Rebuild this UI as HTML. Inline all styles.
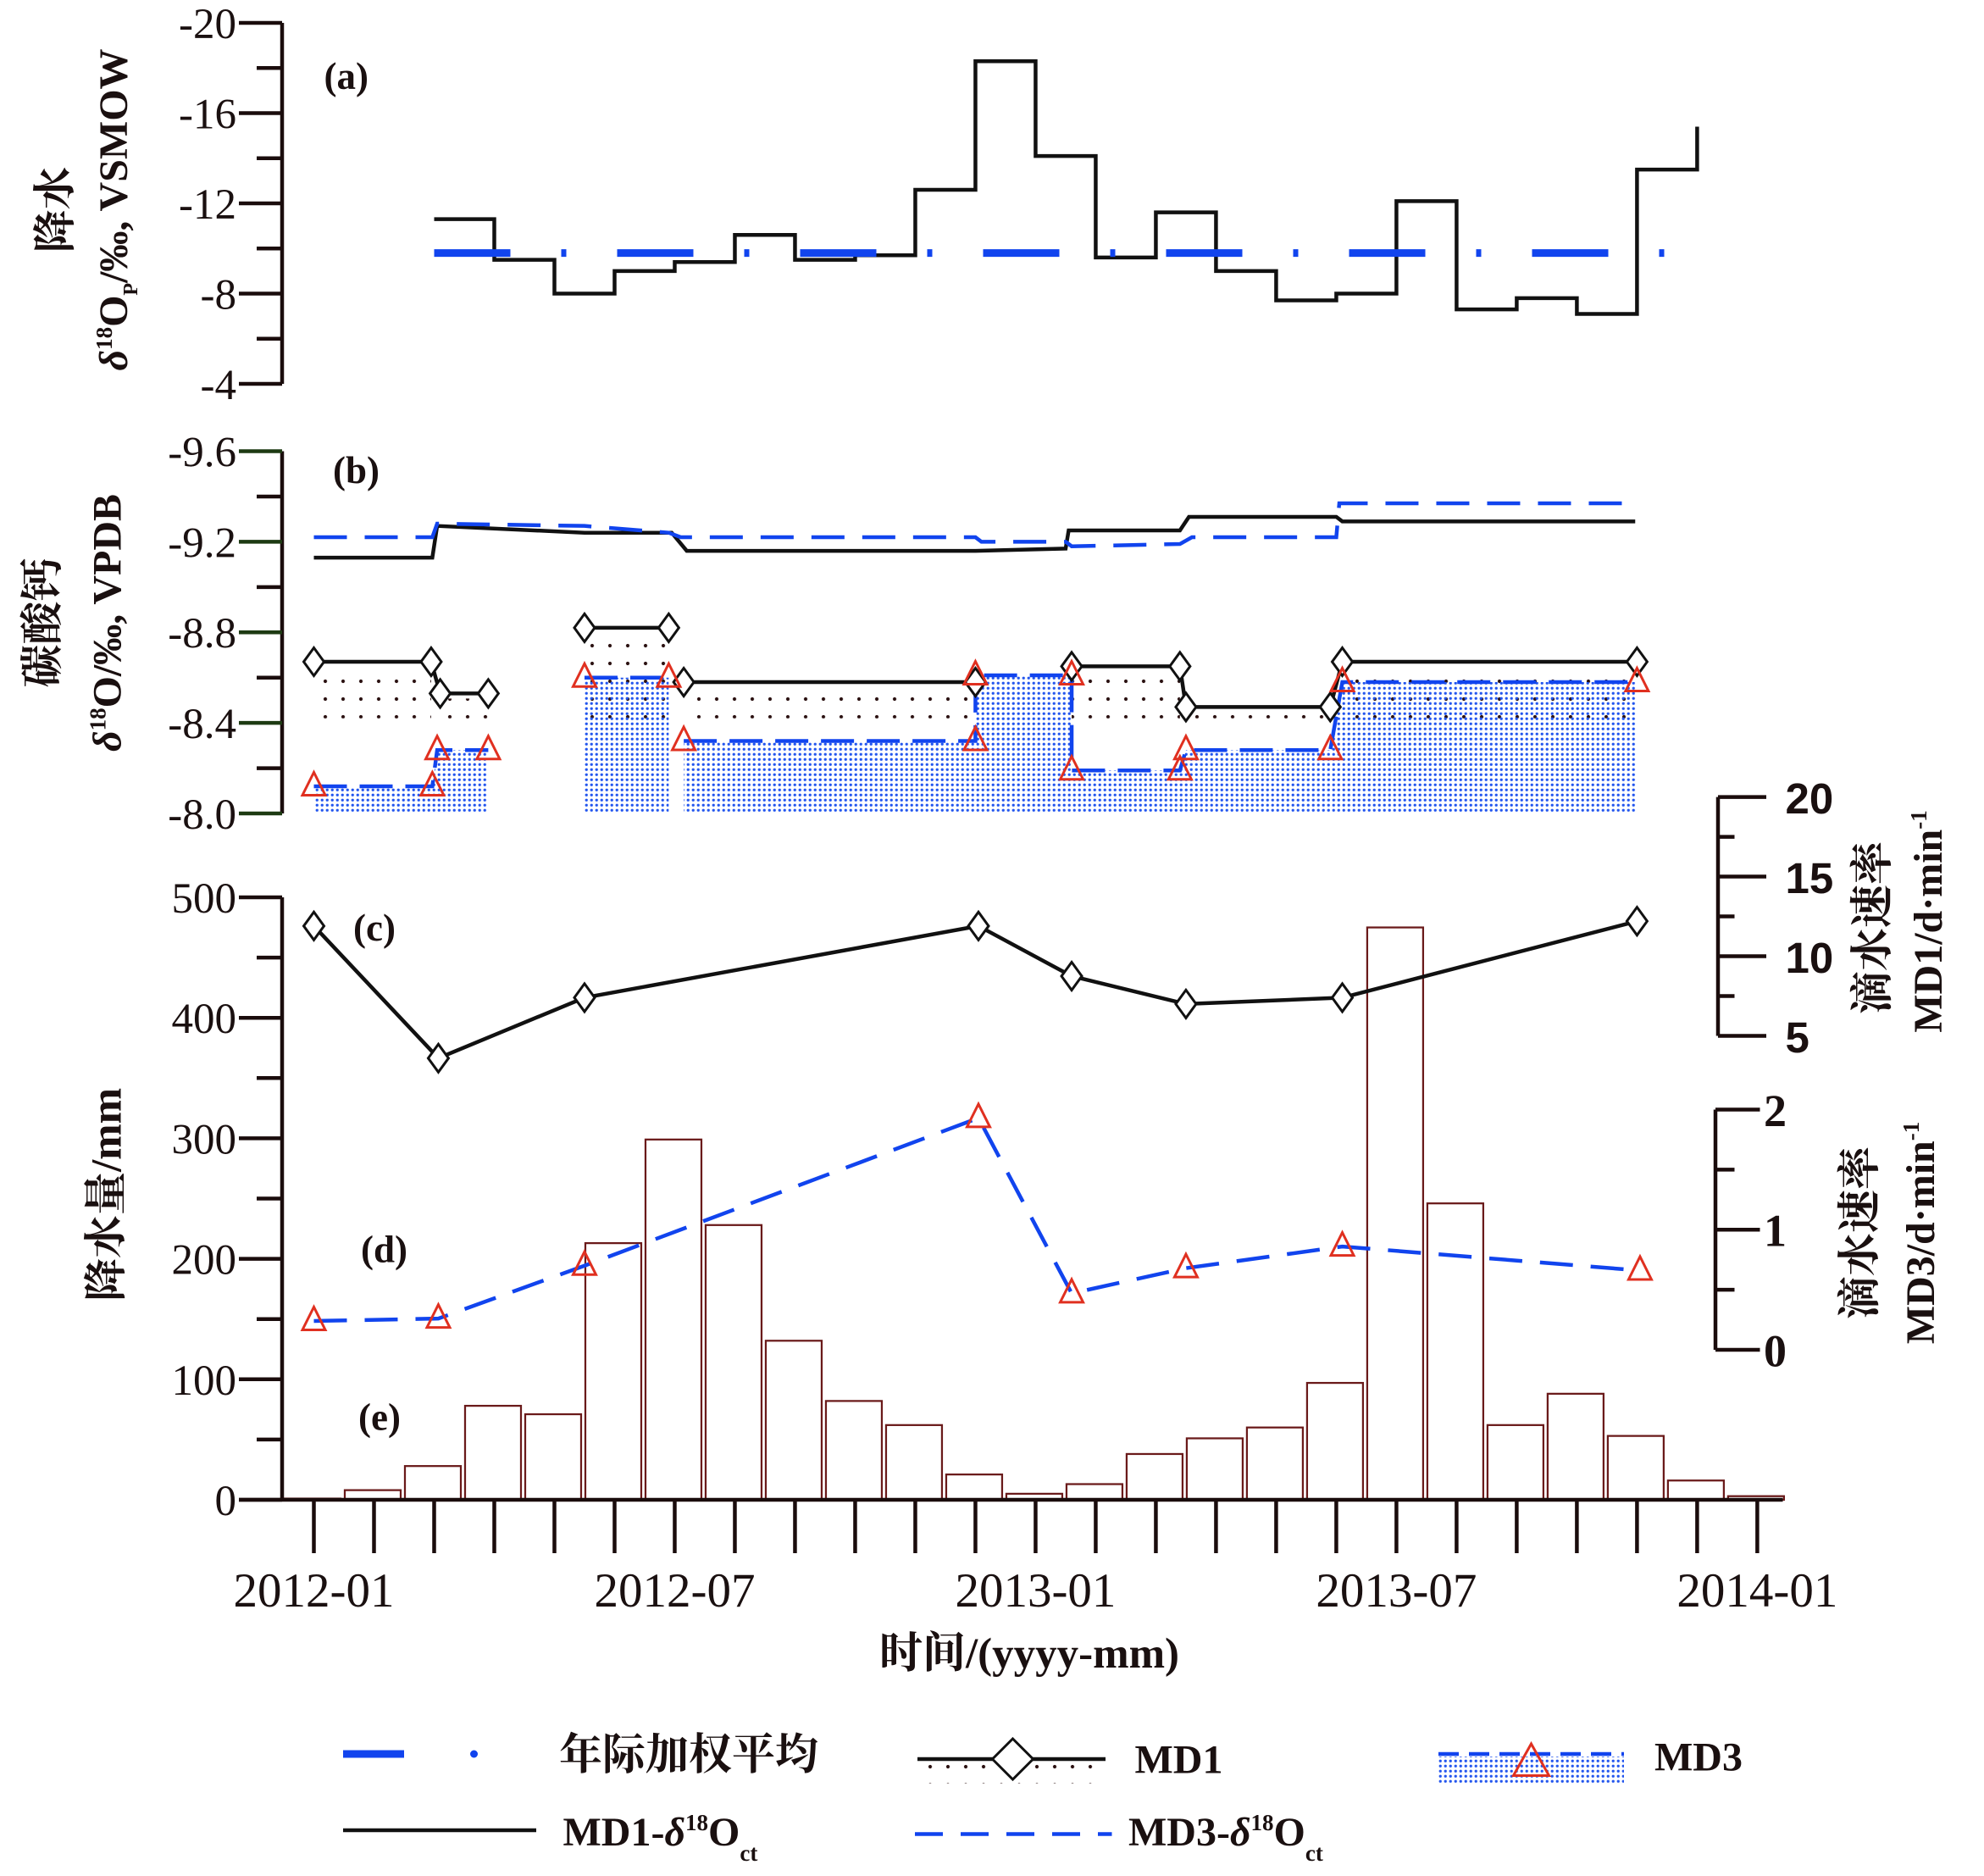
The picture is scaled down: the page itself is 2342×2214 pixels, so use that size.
<!DOCTYPE html>
<html><head><meta charset="utf-8"><style>
html,body{margin:0;padding:0;background:#fff;}
svg{display:block;}
text{font-family:"Liberation Serif","Noto Serif CJK SC",serif;fill:#1a1010;}
</style></head><body>
<svg id="c" xmlns="http://www.w3.org/2000/svg" width="2342" height="2214" viewBox="0 0 1561.33 1476" preserveAspectRatio="none">
<defs>
<pattern id="dotB" width="14" height="14" patternUnits="userSpaceOnUse"><circle cx="4" cy="4" r="1.4" fill="#2a1010"/></pattern>
<pattern id="dotBlue" width="4" height="4" patternUnits="userSpaceOnUse"><circle cx="1.5" cy="1.5" r="1.1" fill="#2255ee"/></pattern>
</defs>
<g id="g"></g>
<text x="255" y="70" font-size="30" font-weight="bold">(a)</text>
<text x="262" y="380" font-size="30" font-weight="bold">(b)</text>
<text x="278" y="740" font-size="30" font-weight="bold">(c)</text>
<text x="284" y="993" font-size="30" font-weight="bold">(d)</text>
<text x="282" y="1125" font-size="30" font-weight="bold">(e)</text>
<text transform="translate(55,165) rotate(-90)" text-anchor="middle" font-size="34" font-weight="bold">降水</text>
<text transform="translate(100,165) rotate(-90)" text-anchor="middle" font-size="32" font-weight="bold"><tspan font-style="italic">δ</tspan><tspan font-size="18" dy="-12">18</tspan><tspan dy="12">O</tspan><tspan font-size="16" dy="8">P</tspan><tspan dy="-8">/‰, VSMOW</tspan></text>
<text transform="translate(45,490) rotate(-90)" text-anchor="middle" font-size="34" font-weight="bold">碳酸钙</text>
<text transform="translate(95,490) rotate(-90)" text-anchor="middle" font-size="32" font-weight="bold"><tspan font-style="italic">δ</tspan><tspan font-size="18" dy="-12">18</tspan><tspan dy="12">O/‰, VPDB</tspan></text>
<text transform="translate(95,940) rotate(-90)" text-anchor="middle" font-size="34" font-weight="bold">降水量/mm</text>
<text transform="translate(1485,730) rotate(-90)" text-anchor="middle" font-size="34" font-weight="bold">滴水速率</text>
<text transform="translate(1528,725) rotate(-90)" text-anchor="middle" font-size="32" font-weight="bold">MD1/d·min<tspan font-size="18" dy="-12">-1</tspan></text>
<text transform="translate(1475,970) rotate(-90)" text-anchor="middle" font-size="34" font-weight="bold">滴水速率</text>
<text transform="translate(1522,970) rotate(-90)" text-anchor="middle" font-size="32" font-weight="bold">MD3/d·min<tspan font-size="18" dy="-12">-1</tspan></text>
<text x="810" y="1312" text-anchor="middle" font-size="34" font-weight="bold">时间/(yyyy-mm)</text>
<g>
<line x1="270" y1="1380" x2="318" y2="1380" stroke="#1144ee" stroke-width="6"/>
<circle cx="373" cy="1380" r="3" fill="#1144ee"/>
<text x="440" y="1392" font-size="34" font-weight="bold">年际加权平均</text>
<rect x="722" y="1385" width="148" height="18" fill="url(#dotB)"/>
<line x1="722" y1="1384" x2="870" y2="1384" stroke="#111" stroke-width="3"/>
<polygon points="797,1368 813,1384 797,1400 781,1384" fill="#fff" stroke="#111" stroke-width="2"/>
<text x="893" y="1395" font-size="32" font-weight="bold">MD1</text>
<rect x="1132" y="1382" width="146" height="22" fill="url(#dotBlue)"/>
<line x1="1132" y1="1380" x2="1278" y2="1380" stroke="#1144ee" stroke-width="3" stroke-dasharray="16,8"/>
<polygon points="1205,1372 1219,1397 1191,1397" fill="none" stroke="#e03020" stroke-width="2"/>
<text x="1302" y="1393" font-size="32" font-weight="bold">MD3</text>
<line x1="270" y1="1440" x2="422" y2="1440" stroke="#111" stroke-width="3"/>
<text x="443" y="1452" font-size="32" font-weight="bold">MD1-<tspan font-style="italic">δ</tspan><tspan font-size="18" dy="-12">18</tspan><tspan dy="12">O</tspan><tspan font-size="18" dy="12">ct</tspan></text>
<line x1="720" y1="1443" x2="875" y2="1443" stroke="#1144ee" stroke-width="3" stroke-dasharray="22,14"/>
<text x="888" y="1452" font-size="32" font-weight="bold">MD3-<tspan font-style="italic">δ</tspan><tspan font-size="18" dy="-12">18</tspan><tspan dy="12">O</tspan><tspan font-size="18" dy="12">ct</tspan></text>
</g>
</svg>
<script>
// Panel a: monthly precipitation d18O, months 2..22
const aStartMonth = 2;
const aValues = [-11.3,-9.5,-8.0,-9.0,-9.4,-10.6,-9.5,-9.7,-12.6,-18.3,-14.1,-9.6,-11.6,-9.0,-7.7,-8.0,-12.1,-7.3,-7.8,-7.1,-13.5];
const aLastValue = -15.4;
const aMean = -9.8;
const aTicks = [-20,-16,-12,-8,-4];
// Panel b: calcite d18O
const md1ctMonths = [0,1.97,2.05,4.5,5.95,6.2,11,12.5,12.55,14.4,14.55,17,17.1,21.97];
const md1ctValues = [-9.13,-9.13,-9.27,-9.24,-9.24,-9.16,-9.16,-9.17,-9.25,-9.25,-9.31,-9.31,-9.29,-9.29];
const md3ctMonths = [0,1.97,2.05,4.5,5.9,6.1,11,11.1,12.5,12.6,14.4,14.6,17,17.05,21.97];
const md3ctValues = [-9.22,-9.22,-9.28,-9.27,-9.24,-9.22,-9.22,-9.2,-9.2,-9.18,-9.19,-9.22,-9.22,-9.37,-9.37];
const md1Groups = [[[0,1.95,-8.67],[2.1,2.9,-8.53]],[[4.5,5.9,-8.82]],[[6.15,11,-8.58]],[[12.6,14.4,-8.65],[14.5,16.9,-8.47],[17.1,22,-8.67]]];
const md3Groups = [[[0,1.97,-8.12],[2.05,2.9,-8.28]],[[4.5,5.9,-8.6]],[[6.15,11,-8.32],[11,12.6,-8.61],[12.6,14.4,-8.19],[14.5,16.9,-8.28],[17.1,22,-8.58]]];
const bTicks = [-9.6,-9.2,-8.8,-8.4,-8.0];
// Panel c/d: drip rates
const dripMonths = [0,2.07,4.5,11.05,12.6,14.5,17.1,22];
const md1Drip = [11.9,3.6,7.4,11.9,8.75,7.0,7.4,12.2];
const md3DripMonths = [0,2.07,4.5,11.05,12.6,14.5,17.1,22.05];
const md3Drip = [0.24,0.26,0.70,1.93,0.47,0.68,0.86,0.66];
// Panel e: monthly rainfall 2012-01..2014-01
const rain = [1,8,28,78,71,213,299,228,132,82,62,21,5,13,38,51,60,97,475,246,62,88,53,16,3];
const rainTicks = [0,100,200,300,400,500];
const xLabels = ["2012-01","2012-07","2013-01","2013-07","2014-01"];
const md1Ticks = [5,10,15,20];
const md3Ticks = [0,1,2];

const NS="http://www.w3.org/2000/svg";
const G=document.getElementById('g');
function mk(tag,attrs,parent){const e=document.createElementNS(NS,tag);for(const k in attrs)e.setAttribute(k,attrs[k]);(parent||G).appendChild(e);return e;}
const xM=m=>247+47.33*m;
const yA=v=>302+(v+4)*17.75;
const yB=v=>640+(v+8)*178.125;
const yP=v=>1180-v*0.948;
const yR1=v=>815-(v-5)*12.53;
const yR3=v=>1062-v*94.5;
const AX='#1a0c0c';

// axes panel a
let e=mk('line',{x1:222,y1:18,x2:222,y2:302,stroke:AX,'stroke-width':3});


for(let v=-20;v<=-4;v+=2){const maj=aTicks.includes(v);mk('line',{x1:maj?188:202,y1:yA(v),x2:222,y2:yA(v),stroke:AX,'stroke-width':3});}
aTicks.forEach(v=>{const t=mk('text',{x:186,y:yA(v)+12,'text-anchor':'end','font-size':34});t.textContent=v;

});
// panel a step line
let d=`M${xM(aStartMonth)},${yA(aValues[0])}`;
aValues.forEach((v,i)=>{if(i>0)d+=` V${yA(v)}`;d+=` H${xM(aStartMonth+i+1)}`;});
d+=` V${yA(aLastValue)}`;
e=mk('path',{d:d,fill:'none',stroke:'#111',"stroke-width":3});


e=mk('line',{x1:xM(2),y1:yA(aMean),x2:xM(23),y2:yA(aMean),stroke:'#1144ee','stroke-width':6,'stroke-dasharray':'60,40,4,40'});



// axes panel b
e=mk('line',{x1:222,y1:355,x2:222,y2:640,stroke:AX,'stroke-width':3});


for(let i=0;i<=8;i++){const v=-9.6+i*0.2;const maj=i%2==0;mk('line',{x1:maj?188:202,y1:yB(v),x2:222,y2:yB(v),stroke:maj?'#1d3a12':AX,'stroke-width':3});}
bTicks.forEach(v=>{const t=mk('text',{x:186,y:yB(v)+12,'text-anchor':'end','font-size':34});t.textContent=v.toFixed(1);

});
// MD1 fill
md1Groups.forEach(g=>g.forEach(s=>{mk('rect',{x:xM(s[0]),y:yB(s[2])+4,width:xM(s[1])-xM(s[0]),height:Math.max(0,yB(-8.42)-yB(s[2])-4),fill:'url(#dotB)'});}));
// MD3 fill
md3Groups.forEach(g=>{let p=[];g.forEach(s=>{p.push([xM(s[0]),yB(s[2])],[xM(s[1]),yB(s[2])]);});
p.push([xM(g[g.length-1][1]),yB(-8)],[xM(g[0][0]),yB(-8)]);
const f=mk('polygon',{points:p.map(q=>q.join(',')).join(' '),fill:'url(#dotBlue)'});

});
function grpLine(groups,stroke,dash,name){groups.forEach(g=>{let p=[];g.forEach(s=>p.push([xM(s[0]),yB(s[2])],[xM(s[1]),yB(s[2])]));
const l=mk('polyline',{points:p.map(q=>q.join(',')).join(' '),fill:'none',stroke:stroke,'stroke-width':3,'stroke-dasharray':dash});

});}
grpLine(md1Groups,'#111','none','md1-step-line');
grpLine(md3Groups,'#1144ee','26,10','md3-step-line');
function diamond(x,y){const m=mk('polygon',{points:`${x},${y-11} ${x+8},${y} ${x},${y+11} ${x-8},${y}`,fill:'#fff',stroke:'#111','stroke-width':2});

}
function tri(x,y){const m=mk('polygon',{points:`${x},${y-11} ${x+9},${y+7} ${x-9},${y+7}`,fill:'none',stroke:'#e03020','stroke-width':2});

}
md1Groups.forEach(g=>g.forEach(s=>{diamond(xM(s[0]),yB(s[2]));diamond(xM(s[1]),yB(s[2]));}));
md3Groups.forEach(g=>g.forEach(s=>{tri(xM(s[0]),yB(s[2]));tri(xM(s[1]),yB(s[2]));}));
e=mk('polyline',{points:md1ctMonths.map((m,i)=>xM(m)+','+yB(md1ctValues[i])).join(' '),fill:'none',stroke:'#111','stroke-width':3});


e=mk('polyline',{points:md3ctMonths.map((m,i)=>xM(m)+','+yB(md3ctValues[i])).join(' '),fill:'none',stroke:'#1144ee','stroke-width':3,'stroke-dasharray':'26,14'});



// rainfall bars
rain.forEach((v,i)=>{const b=mk('rect',{x:xM(i)-23,y:yP(v),width:44,height:yP(0)-yP(v),fill:'#fff',stroke:'#6a1a1a','stroke-width':1.5});

});
// left axis c
e=mk('line',{x1:222,y1:706,x2:222,y2:1180,stroke:AX,'stroke-width':3});


for(let v=0;v<=500;v+=50){const maj=v%100==0;mk('line',{x1:maj?188:202,y1:yP(v),x2:222,y2:yP(v),stroke:AX,'stroke-width':3});}
rainTicks.forEach(v=>{const t=mk('text',{x:186,y:yP(v)+12,'text-anchor':'end','font-size':34});t.textContent=v;

});
// x axis
e=mk('line',{x1:188,y1:1180,x2:1403,y2:1180,stroke:AX,'stroke-width':3});


for(let m=0;m<=24;m++)mk('line',{x1:xM(m),y1:1180,x2:xM(m),y2:1222,stroke:AX,'stroke-width':3});
xLabels.forEach((s,i)=>{const t=mk('text',{x:xM(i*6),y:1264,'text-anchor':'middle','font-size':38});t.textContent=s;

});
// MD1 drip
e=mk('polyline',{points:dripMonths.map((m,i)=>xM(m)+','+yR1(md1Drip[i])).join(' '),fill:'none',stroke:'#111','stroke-width':3});


dripMonths.forEach((m,i)=>diamond(xM(m),yR1(md1Drip[i])));
e=mk('polyline',{points:md3DripMonths.map((m,i)=>xM(m)+','+yR3(md3Drip[i])).join(' '),fill:'none',stroke:'#1144ee','stroke-width':3,'stroke-dasharray':'26,14'});


md3DripMonths.forEach((m,i)=>tri(xM(m),yR3(md3Drip[i])));
// right axes
e=mk('line',{x1:1352,y1:yR1(20),x2:1352,y2:yR1(5),stroke:AX,'stroke-width':3});


for(let v=5;v<=20;v+=2.5){const maj=v%5==0;mk('line',{x1:1352,y1:yR1(v),x2:maj?1390:1365,y2:yR1(v),stroke:AX,'stroke-width':3});}
md1Ticks.forEach(v=>{const t=mk('text',{x:1405,y:yR1(v)+13,'font-size':34,'font-weight':'bold',style:'font-family:"Liberation Sans",sans-serif'});t.textContent=v;

});
e=mk('line',{x1:1350,y1:yR3(2),x2:1350,y2:yR3(0),stroke:AX,'stroke-width':3});


for(let v=0;v<=2;v+=0.5){const maj=v%1==0;mk('line',{x1:1350,y1:yR3(v),x2:maj?1385:1365,y2:yR3(v),stroke:AX,'stroke-width':3});}
md3Ticks.forEach(v=>{const t=mk('text',{x:1388,y:yR3(v)+13,'font-size':36,'font-weight':'bold'});t.textContent=v;

});
</script>
</body></html>
